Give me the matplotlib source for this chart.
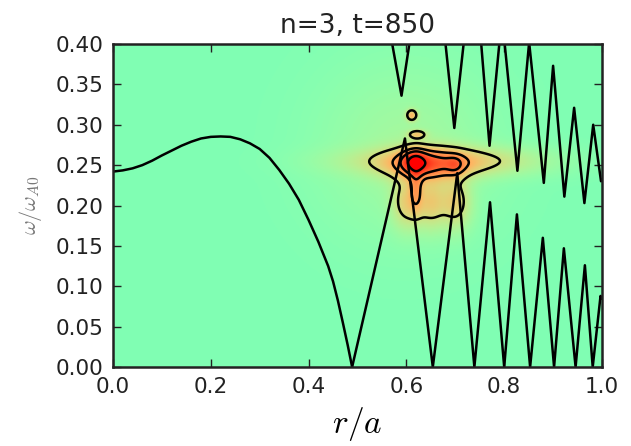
import numpy as np
import matplotlib
matplotlib.use("Agg")
import matplotlib.pyplot as plt
from matplotlib.colors import ListedColormap, PowerNorm

# ---------------- data ----------------
title = "n=3, t=850"
xticks = [0.0, 0.2, 0.4, 0.6, 0.8, 1.0]
yticks = [0.00, 0.05, 0.10, 0.15, 0.20, 0.25, 0.30, 0.35, 0.40]

# continuum branch starting at the axis (smooth part)
branchA_r = [0.00, 0.02, 0.04, 0.06, 0.08, 0.10, 0.12, 0.14, 0.16, 0.18, 0.20,
             0.22, 0.24, 0.26, 0.28, 0.30, 0.32, 0.34, 0.36, 0.38, 0.40, 0.42,
             0.44, 0.45, 0.46, 0.47, 0.48, 0.489]
branchA_w = [0.242, 0.2435, 0.246, 0.250, 0.2555, 0.262, 0.268, 0.274, 0.279,
             0.283, 0.285, 0.2855, 0.285, 0.282, 0.277, 0.270, 0.259, 0.244,
             0.227, 0.207, 0.182, 0.155, 0.125, 0.106, 0.082, 0.055, 0.027, 0.0]

# lower saw-tooth continuum
lower_r = [0.489, 0.597, 0.654, 0.704, 0.739, 0.771, 0.800, 0.826, 0.853,
           0.879, 0.902, 0.922, 0.946, 0.965, 0.981, 0.997, 1.0]
lower_w = [0.0, 0.283, 0.0, 0.240, 0.0, 0.204, 0.0, 0.189, 0.0,
           0.160, 0.0, 0.147, 0.0, 0.126, 0.0, 0.088, 0.085]

# upper continuum pieces
upper1_r = [0.571, 0.590, 0.606]
upper1_w = [0.40, 0.336, 0.40]
upper2_r = [0.680, 0.698, 0.717]
upper2_w = [0.40, 0.296, 0.40]
upper3_r = [0.753, 0.770, 0.790]
upper3_w = [0.40, 0.274, 0.40]
upper4_r = [0.801, 0.827, 0.851, 0.881, 0.900, 0.923, 0.943, 0.964, 0.982, 0.998, 1.0]
upper4_w = [0.40, 0.243, 0.402, 0.228, 0.373, 0.211, 0.321, 0.203, 0.300, 0.230, 0.232]

# mode amplitude field: blobs (centre r, centre w, width r, width w, amplitude)
#            core   plateau bump   lobeL  lobeM  lobeR  Vlobe  band   isl1   isl2   glow
blob_r   = [0.617, 0.645, 0.700, 0.602, 0.651, 0.700, 0.620, 0.672, 0.611, 0.622, 0.60]
blob_w   = [0.254, 0.250, 0.250, 0.204, 0.204, 0.204, 0.224, 0.255, 0.312, 0.288, 0.27]
blob_sr  = [0.017, 0.050, 0.012, 0.020, 0.020, 0.020, 0.009, 0.11, 0.007, 0.012, 0.10]
blob_sw  = [0.0100, 0.013, 0.008, 0.020, 0.020, 0.020, 0.020, 0.011, 0.0045, 0.0035, 0.06]
blob_amp = [0.50, 0.40, 0.20, 0.20, 0.20, 0.20, 0.25, 0.25, 0.28, 0.22, 0.04]
contour_levels = [0.15, 0.35, 0.55, 0.90]

# ---------------- figure ----------------
plt.rcParams['mathtext.fontset'] = 'cm'
fig = plt.figure(figsize=(6.31, 4.46), dpi=100)
ax = fig.add_axes([113/631, 1-367/446, (602-113)/631, (367-44)/446])

rg = np.linspace(0, 1, 500)
wg = np.linspace(0, 0.4, 400)
R, W = np.meshgrid(rg, wg)
F = np.zeros_like(R)
for cr, cw, sr, sw, a in zip(blob_r, blob_w, blob_sr, blob_sw, blob_amp):
    F += a * np.exp(-0.5*((R-cr)/sr)**2 - 0.5*((W-cw)/sw)**2)

cmap = ListedColormap(plt.cm.rainbow(np.linspace(0.5, 1.0, 256)))
ax.imshow(F, extent=[0, 1, 0, 0.4], origin='lower', aspect='auto',
          cmap=cmap, norm=PowerNorm(0.6, vmin=0, vmax=1), interpolation='bilinear')
ax.contour(R, W, F, levels=contour_levels, colors='black', linewidths=1.8)

lw = 1.8
for xs, ys in [(branchA_r, branchA_w), (lower_r, lower_w), (upper1_r, upper1_w),
               (upper2_r, upper2_w), (upper3_r, upper3_w), (upper4_r, upper4_w)]:
    ax.plot(xs, ys, color='black', lw=lw)

ax.set_xlim(0, 1)
ax.set_ylim(0, 0.4)
ax.set_xticks(xticks)
ax.set_yticks(yticks)
ax.set_xticklabels([f"{v:.1f}" for v in xticks])
ax.set_yticklabels([f"{v:.2f}" for v in yticks])
ax.tick_params(direction='in', length=6, width=1, top=True, right=True,
               labelsize=15.5, pad=7, colors='#222222')
for s in ax.spines.values():
    s.set_linewidth(1.8)
    s.set_color('#222222')

ax.set_title(title, fontsize=19, pad=8, color='#222222')
ax.set_xlabel(r'$r/a$', fontsize=24, labelpad=6)
ax.set_ylabel(r'$\omega/\omega_{A0}$', fontsize=16, color='#777777', labelpad=8)

fig.savefig('out.png', dpi=100)
